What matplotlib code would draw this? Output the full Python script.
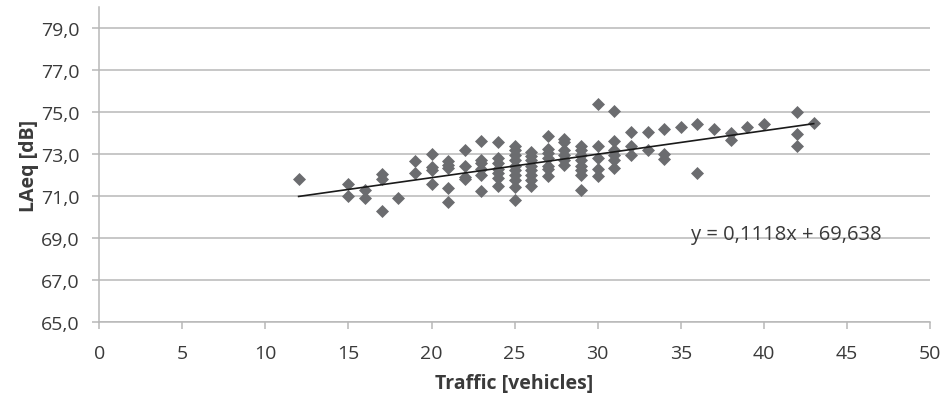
import matplotlib
matplotlib.use("Agg")
import matplotlib.pyplot as plt
import numpy as np

# measured points: traffic count vs. equivalent sound level
traffic = [12,
           15, 15,
           16, 16,
           17, 17, 17,
           18,
           19, 19,
           20, 20, 20, 20,
           21, 21, 21, 21, 21,
           22, 22, 22, 22,
           23, 23, 23, 23, 23, 23,
           24, 24, 24, 24, 24, 24, 24,
           25, 25, 25, 25, 25, 25, 25, 25, 25, 25,
           26, 26, 26, 26, 26, 26, 26, 26,
           27, 27, 27, 27, 27, 27, 27,
           28, 28, 28, 28, 28, 28,
           29, 29, 29, 29, 29, 29, 29, 29,
           30, 30, 30, 30, 30,
           31, 31, 31, 31, 31, 31,
           32, 32, 32,
           33, 33,
           34, 34, 34,
           35,
           36, 36,
           37,
           38, 38,
           39,
           40,
           42, 42, 42,
           43]
laeq = [71.8,
        71.55, 71.0,
        71.3, 70.9,
        72.05, 71.8, 70.3,
        70.9,
        72.65, 72.1,
        73.0, 72.4, 72.25, 71.55,
        72.65, 72.5, 72.35, 71.4, 70.7,
        73.2, 72.45, 71.9, 71.8,
        73.6, 72.7, 72.55, 72.3, 72.0, 71.25,
        73.55, 72.8, 72.55, 72.3, 72.1, 71.85, 71.5,
        73.4, 73.2, 72.95, 72.7, 72.45, 72.25, 72.0, 71.75, 71.45, 70.8,
        73.1, 72.9, 72.7, 72.45, 72.25, 72.0, 71.75, 71.5,
        73.85, 73.25, 73.05, 72.8, 72.45, 72.3, 71.95,
        73.7, 73.55, 73.2, 72.95, 72.7, 72.5,
        73.4, 73.2, 72.95, 72.7, 72.45, 72.25, 72.0, 71.3,
        75.4, 73.4, 72.8, 72.3, 71.95,
        75.05, 73.6, 73.2, 72.95, 72.7, 72.35,
        74.05, 73.4, 72.95,
        74.05, 73.2,
        74.2, 73.0, 72.75,
        74.3,
        74.45, 72.1,
        74.2,
        74.0, 73.65,
        74.3,
        74.45,
        75.0, 73.95, 73.4,
        74.5]

# linear trend as printed on the chart
slope = 0.1118
intercept = 69.638

xticks = [0, 5, 10, 15, 20, 25, 30, 35, 40, 45, 50]
yticks = [65, 67, 69, 71, 73, 75, 77, 79]

plt.rcParams['font.family'] = ['Open Sans', 'DejaVu Sans']

fig = plt.figure(figsize=(9.48, 4.02), dpi=100)
ax = fig.add_axes([0.1047, 0.1965, 0.981 - 0.1047, 0.980 - 0.1965])

grid_col = '#b8b8b8'
text_col = '#3a3a3a'

ax.set_xlim(0, 50)
ax.set_ylim(65, 80)
ax.set_xticks(xticks)
ax.set_yticks(yticks)
ax.set_yticklabels([f'{v:.1f}'.replace('.', ',') for v in yticks])
ax.yaxis.grid(True, color=grid_col, linewidth=1.1)
ax.set_axisbelow(True)

for side in ['top', 'right']:
    ax.spines[side].set_visible(False)
for side in ['left', 'bottom']:
    ax.spines[side].set_color(grid_col)
    ax.spines[side].set_linewidth(1.1)

ax.tick_params(axis='both', colors=grid_col, length=5, width=1.1,
               labelcolor=text_col, labelsize=14)
ax.tick_params(axis='x', pad=11)
ax.tick_params(axis='y', pad=9)

ax.scatter(traffic, laeq, marker='D', s=44, color='#6b6c6f',
           linewidths=0, zorder=3)

xs = np.array([min(traffic), max(traffic)])
ax.plot(xs, slope * xs + intercept, color='#1a1a1a', linewidth=1.2, zorder=4)

eq = f'y = {slope}x + {intercept}'.replace('.', ',')
ax.text(35.6, 68.95, eq, fontsize=14.5, color=text_col,
        va='baseline', ha='left')

ax.set_xlabel('Traffic [vehicles]', fontsize=14, fontweight='bold',
              color=text_col)
ax.set_ylabel('LAeq [dB]', fontsize=14, fontweight='bold',
              color=text_col)
ax.xaxis.set_label_coords(0.5, -0.194)
ax.xaxis.label.set_va('center')
ax.yaxis.set_label_coords(-0.0846, 0.5)
ax.yaxis.label.set_va('center')

fig.savefig('out.png', dpi=100)
